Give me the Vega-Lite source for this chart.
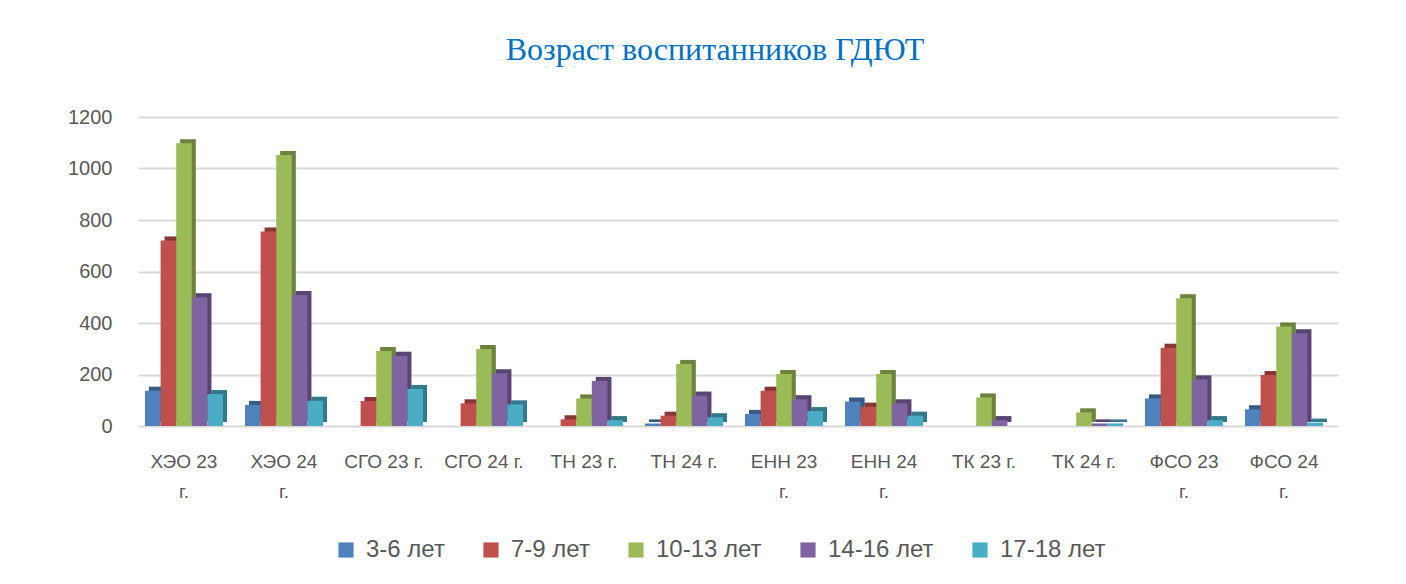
{
  "$schema": "https://vega.github.io/schema/vega-lite/v6.json",
  "width": 1200,
  "height": 309,
  "autosize": {"type": "none"},
  "padding": {"left": 134, "top": 117, "right": 72, "bottom": 158},
  "background": "white",
  "title": {
    "text": "Возраст воспитанников ГДЮТ",
    "font": "Liberation Serif",
    "fontSize": 32,
    "fontWeight": "normal",
    "color": "#0070C0",
    "anchor": "middle",
    "dx": -19,
    "offset": 40
  },
  "data": {
    "values": [
      {"group": "ХЭО 23 г.", "age": "3-6 лет", "value": 137},
      {"group": "ХЭО 23 г.", "age": "7-9 лет", "value": 720},
      {"group": "ХЭО 23 г.", "age": "10-13 лет", "value": 1098},
      {"group": "ХЭО 23 г.", "age": "14-16 лет", "value": 500},
      {"group": "ХЭО 23 г.", "age": "17-18 лет", "value": 124},
      {"group": "ХЭО 24 г.", "age": "3-6 лет", "value": 82},
      {"group": "ХЭО 24 г.", "age": "7-9 лет", "value": 755},
      {"group": "ХЭО 24 г.", "age": "10-13 лет", "value": 1052},
      {"group": "ХЭО 24 г.", "age": "14-16 лет", "value": 509},
      {"group": "ХЭО 24 г.", "age": "17-18 лет", "value": 98},
      {"group": "СГО 23 г.", "age": "3-6 лет", "value": 0},
      {"group": "СГО 23 г.", "age": "7-9 лет", "value": 97},
      {"group": "СГО 23 г.", "age": "10-13 лет", "value": 291},
      {"group": "СГО 23 г.", "age": "14-16 лет", "value": 273},
      {"group": "СГО 23 г.", "age": "17-18 лет", "value": 144},
      {"group": "СГО 24 г.", "age": "3-6 лет", "value": 0},
      {"group": "СГО 24 г.", "age": "7-9 лет", "value": 88},
      {"group": "СГО 24 г.", "age": "10-13 лет", "value": 299},
      {"group": "СГО 24 г.", "age": "14-16 лет", "value": 205},
      {"group": "СГО 24 г.", "age": "17-18 лет", "value": 84},
      {"group": "ТН 23 г.", "age": "3-6 лет", "value": 0},
      {"group": "ТН 23 г.", "age": "7-9 лет", "value": 26},
      {"group": "ТН 23 г.", "age": "10-13 лет", "value": 107},
      {"group": "ТН 23 г.", "age": "14-16 лет", "value": 175},
      {"group": "ТН 23 г.", "age": "17-18 лет", "value": 23},
      {"group": "ТН 24 г.", "age": "3-6 лет", "value": 10},
      {"group": "ТН 24 г.", "age": "7-9 лет", "value": 40},
      {"group": "ТН 24 г.", "age": "10-13 лет", "value": 241},
      {"group": "ТН 24 г.", "age": "14-16 лет", "value": 118},
      {"group": "ТН 24 г.", "age": "17-18 лет", "value": 34},
      {"group": "ЕНН 23 г.", "age": "3-6 лет", "value": 47},
      {"group": "ЕНН 23 г.", "age": "7-9 лет", "value": 137},
      {"group": "ЕНН 23 г.", "age": "10-13 лет", "value": 202},
      {"group": "ЕНН 23 г.", "age": "14-16 лет", "value": 104},
      {"group": "ЕНН 23 г.", "age": "17-18 лет", "value": 58},
      {"group": "ЕНН 24 г.", "age": "3-6 лет", "value": 95},
      {"group": "ЕНН 24 г.", "age": "7-9 лет", "value": 75},
      {"group": "ЕНН 24 г.", "age": "10-13 лет", "value": 202},
      {"group": "ЕНН 24 г.", "age": "14-16 лет", "value": 88},
      {"group": "ЕНН 24 г.", "age": "17-18 лет", "value": 40},
      {"group": "ТК 23 г.", "age": "3-6 лет", "value": 0},
      {"group": "ТК 23 г.", "age": "7-9 лет", "value": 0},
      {"group": "ТК 23 г.", "age": "10-13 лет", "value": 111},
      {"group": "ТК 23 г.", "age": "14-16 лет", "value": 23},
      {"group": "ТК 23 г.", "age": "17-18 лет", "value": 0},
      {"group": "ТК 24 г.", "age": "3-6 лет", "value": 0},
      {"group": "ТК 24 г.", "age": "7-9 лет", "value": 0},
      {"group": "ТК 24 г.", "age": "10-13 лет", "value": 53},
      {"group": "ТК 24 г.", "age": "14-16 лет", "value": 10},
      {"group": "ТК 24 г.", "age": "17-18 лет", "value": 10},
      {"group": "ФСО 23 г.", "age": "3-6 лет", "value": 107},
      {"group": "ФСО 23 г.", "age": "7-9 лет", "value": 304},
      {"group": "ФСО 23 г.", "age": "10-13 лет", "value": 496},
      {"group": "ФСО 23 г.", "age": "14-16 лет", "value": 181},
      {"group": "ФСО 23 г.", "age": "17-18 лет", "value": 23},
      {"group": "ФСО 24 г.", "age": "3-6 лет", "value": 65},
      {"group": "ФСО 24 г.", "age": "7-9 лет", "value": 198},
      {"group": "ФСО 24 г.", "age": "10-13 лет", "value": 386},
      {"group": "ФСО 24 г.", "age": "14-16 лет", "value": 360},
      {"group": "ФСО 24 г.", "age": "17-18 лет", "value": 13}
    ]
  },
  "encoding": {
    "xOffset": {"field": "age", "type": "nominal", "sort": ["3-6 лет", "7-9 лет", "10-13 лет", "14-16 лет", "17-18 лет"]},
    "y": {
      "field": "value",
      "type": "quantitative",
      "title": null,
      "scale": {"domain": [0, 1200]},
      "axis": {
        "values": [0, 200, 400, 600, 800, 1000, 1200],
        "format": "d",
        "labelFont": "Liberation Sans",
        "labelFontSize": 20,
        "labelColor": "#595959",
        "labelPadding": 22,
        "ticks": false,
        "domain": false,
        "gridColor": "#D9D9D9",
        "gridWidth": 2
      }
    },
    "color": {
      "field": "age",
      "type": "nominal",
      "sort": ["3-6 лет", "7-9 лет", "10-13 лет", "14-16 лет", "17-18 лет"],
      "scale": {
        "domain": ["3-6 лет", "7-9 лет", "10-13 лет", "14-16 лет", "17-18 лет"],
        "range": ["#4F81BD", "#C0504D", "#9BBB59", "#8064A2", "#4BACC6"]
      },
      "legend": {
        "title": null,
        "orient": "none",
        "direction": "horizontal",
        "legendX": 200,
        "legendY": 421,
        "symbolType": "square",
        "symbolSize": 230,
        "symbolStrokeWidth": 0,
        "labelFont": "Liberation Sans",
        "labelFontSize": 24,
        "labelColor": "#595959",
        "labelOffset": 8,
        "columnPadding": 34
      }
    }
  },
  "layer": [
    {
      "mark": {"type": "bar", "yOffset": -4},
      "encoding": {
        "x": {"field": "group", "type": "nominal", "sort": null, "title": null,
          "scale": {"paddingInner": 0.22, "paddingOuter": 0.11, "range": [4, 1204]}, "axis": null}
      }
    },
    {
      "mark": {"type": "bar", "yOffset": -4, "color": "black", "opacity": 0.3},
      "encoding": {
        "x": {"field": "group", "type": "nominal", "sort": null, "title": null,
          "scale": {"paddingInner": 0.22, "paddingOuter": 0.11, "range": [4, 1204]}, "axis": null},
        "color": {"value": "black"}
      }
    },
    {
      "mark": {"type": "bar"},
      "encoding": {
        "x": {
          "field": "group",
          "type": "nominal",
          "sort": null,
          "title": null,
          "scale": {"paddingInner": 0.22, "paddingOuter": 0.11},
          "axis": {
            "labelAngle": 0,
            "labelFont": "Liberation Sans",
            "labelFontSize": 19,
            "labelColor": "#595959",
            "labelPadding": 35,
            "labelLineHeight": 30,
            "labelBaseline": "middle",
            "ticks": false,
            "domain": false,
            "grid": false,
            "labelExpr": "test(/^(ХЭО|ЕНН|ФСО)/, datum.value) ? [slice(datum.value, 0, 6), 'г.'] : datum.value"
          }
        }
      }
    }
  ],
  "resolve": {"scale": {"x": "independent"}},
  "config": {"view": {"stroke": null}}
}
